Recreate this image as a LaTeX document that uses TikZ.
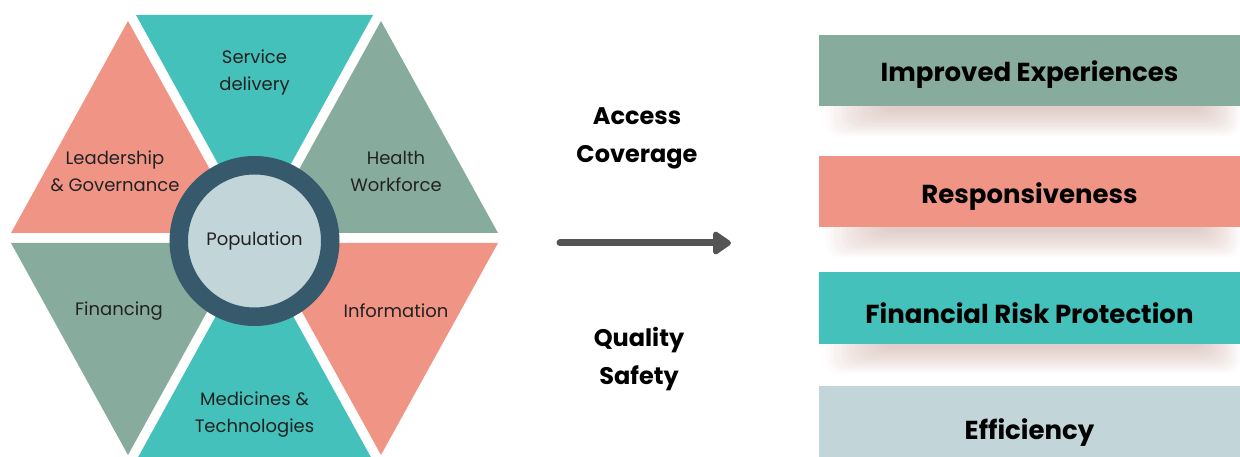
\documentclass[tikz,border=0pt]{standalone}
\usepackage{fontspec}
\setmainfont{Poppins}
\usetikzlibrary{arrows.meta}

\definecolor{tealc}{RGB}{67,193,186}
\definecolor{salmonc}{RGB}{240,149,134}
\definecolor{sagec}{RGB}{135,172,157}
\definecolor{paleblue}{RGB}{194,213,217}
\definecolor{ringc}{RGB}{54,90,107}
\definecolor{arrowc}{RGB}{84,84,84}
\definecolor{shadowc}{RGB}{185,140,130}
\definecolor{textc}{RGB}{34,34,34}

% soft shadow under a bar, #1 = bottom edge of the bar
\newcommand{\barshadow}[1]{%
  \foreach \k in {0,...,15}
    \fill[shadowc, fill opacity=0.035, rounded corners=12pt]
      (826+4*\k,#1-12) rectangle (1240-2.5*\k,#1+30-1.8*\k);
}

\begin{document}
\begin{tikzpicture}[x=1pt,y=-1pt,
    part/.style={font=\fontsize{18}{27}\selectfont, text=textc, align=center},
    midtext/.style={font=\bfseries\fontsize{24}{38}\selectfont, text=black, align=center},
    bar/.style={fill=#1, minimum width=421pt, minimum height=71pt, inner sep=0pt,
      text height=18pt, text depth=0pt, font=\bfseries\fontsize{26}{30}\selectfont, text=black}]
  \useasboundingbox (0,0) rectangle (1240,457);
  \clip (0,0) rectangle (1240,457);

  % six blocks round the hub
  \fill[tealc]   (136,15) -- (373,15) -- (254.5,230) -- cycle;
  \fill[salmonc] (128,21) -- (11,233) -- (245,233) -- cycle;
  \fill[sagec]   (381,21) -- (498,233) -- (264,233) -- cycle;
  \fill[sagec]   (11,243) -- (245,243) -- (128,455) -- cycle;
  \fill[salmonc] (264,243) -- (498,243) -- (381,455) -- cycle;
  \fill[tealc]   (254.5,246) -- (136,461) -- (373,461) -- cycle;

  \node[circle, fill=paleblue, draw=ringc, line width=18.5pt, minimum size=151.5pt,
    inner sep=0pt, font=\fontsize{18}{27}\selectfont, text=textc] (pop) at (254.5,241) {Population};

  \node[part] (service) at (254.5,72.5) {Service\\delivery};
  \node[part] (leader) at (115,171) {Leadership\\\& Governance};
  \node[part] (health) at (396,171) {Health\\Workforce};
  \node[part] (finance) at (119,311) {Financing};
  \node[part] (info) at (396,311) {Information};
  \node[part] (meds) at (254.5,414.5) {Medicines \&\\Technologies};

  % middle
  \node[midtext] (access) at (637,138) {Access\\Coverage};
  \node[midtext] (quality) at (639,359) {Quality\\Safety};
  \coordinate (from) at (560,243);
  \coordinate (to) at (731,243);
  \draw[arrowc, line width=7pt, line cap=round,
    -{Triangle[length=20pt,width=26pt,round]}] (from) -- (to);

  % outcomes
  \barshadow{106}
  \barshadow{227}
  \barshadow{343}
  \node[bar=sagec, text height=22pt] (exp) at (1029.5,70.5) {Improved Experiences};
  \node[bar=salmonc, text height=24pt] (resp) at (1029.5,191.5) {Responsiveness};
  \node[bar=tealc, text height=30pt] (risk) at (1029.5,308) {Financial Risk Protection};
  \node[bar=paleblue, text height=35pt] (eff) at (1029.5,421.5) {Efficiency};
\end{tikzpicture}
\end{document}
